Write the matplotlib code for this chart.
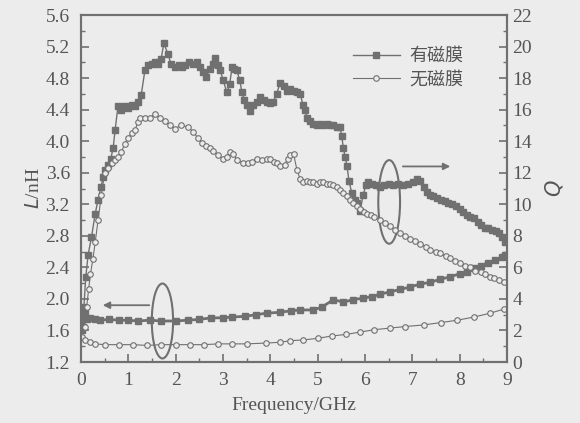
import matplotlib
matplotlib.use("Agg")
import matplotlib.pyplot as plt
from matplotlib.patches import Ellipse

# Q curves (upper)
f_q_film = [0.03, 0.06, 0.1, 0.15, 0.22, 0.3, 0.36, 0.42, 0.47, 0.51, 0.57, 0.63, 0.68, 0.72, 0.78,
            0.85, 0.93, 1.0, 1.07, 1.14, 1.2, 1.27, 1.35, 1.42, 1.49, 1.56, 1.63, 1.69, 1.75, 1.84,
            1.9, 1.99, 2.06, 2.13, 2.2, 2.28, 2.36, 2.44, 2.51, 2.58, 2.65, 2.72, 2.79, 2.83, 2.9,
            2.94, 3.0, 3.08, 3.14, 3.19, 3.24, 3.29, 3.35, 3.4, 3.45, 3.5, 3.57, 3.64, 3.71, 3.78,
            3.86, 3.93, 4.0, 4.06, 4.13, 4.21, 4.28, 4.35, 4.42, 4.49, 4.56, 4.63, 4.69, 4.73, 4.77,
            4.84, 4.91, 4.98, 5.05, 5.12, 5.19, 5.26, 5.33, 5.4, 5.47, 5.51, 5.54, 5.58, 5.62, 5.66,
            5.72, 5.78, 5.83, 5.9, 5.96, 6.02, 6.07, 6.15, 6.23, 6.32, 6.4, 6.5, 6.6, 6.7, 6.8,
            6.9, 7.02, 7.1, 7.17, 7.24, 7.3, 7.37, 7.44, 7.52, 7.6, 7.68, 7.76, 7.84, 7.92, 8.0,
            8.08, 8.15, 8.22, 8.3, 8.38, 8.46, 8.53, 8.6, 8.68, 8.76, 8.84, 8.9, 8.95]
q_film = [2.0, 3.5, 5.4, 6.8, 7.9, 9.4, 10.3, 11.1, 11.7, 12.2, 12.5, 12.9, 13.6, 14.7, 16.2,
          16.0, 16.2, 16.1, 16.3, 16.2, 16.5, 16.9, 18.5, 18.8, 18.9, 19.0, 18.9, 19.2, 20.2, 19.5,
          18.9, 18.7, 18.8, 18.7, 18.8, 19.0, 18.9, 19.0, 18.7, 18.4, 18.1, 18.6, 18.9, 19.3, 18.8,
          18.5, 17.9, 17.1, 17.6, 18.7, 18.6, 18.5, 17.9, 17.1, 16.6, 16.3, 15.9, 16.3, 16.5, 16.8,
          16.6, 16.5, 16.4, 16.5, 17.0, 17.7, 17.5, 17.2, 17.3, 17.2, 17.1, 17.0, 16.3, 16.0, 15.5,
          15.3, 15.1, 15.0, 15.1, 15.0, 15.1, 15.0, 15.0, 14.9, 14.9, 14.3, 13.6, 13.0, 12.4, 11.5,
          10.7, 10.3, 10.1, 9.6, 10.6, 11.2, 11.4, 11.3, 11.2, 11.1, 11.2, 11.3, 11.2, 11.3, 11.2,
          11.3, 11.4, 11.6, 11.5, 11.1, 10.8, 10.6, 10.5, 10.4, 10.3, 10.2, 10.1, 10.0, 9.9, 9.7,
          9.5, 9.3, 9.2, 9.1, 8.9, 8.7, 8.5, 8.5, 8.4, 8.3, 8.2, 7.9, 7.6]

f_q_bare = [0.08, 0.12, 0.16, 0.2, 0.25, 0.3, 0.36, 0.43, 0.5, 0.57, 0.65, 0.72, 0.78, 0.85, 0.92,
            0.99, 1.07, 1.14, 1.2, 1.25, 1.35, 1.45, 1.56, 1.67, 1.78, 1.88, 1.99, 2.11, 2.26, 2.37,
            2.47, 2.56, 2.63, 2.72, 2.79, 2.9, 3.0, 3.08, 3.15, 3.22, 3.3, 3.43, 3.52, 3.62, 3.72,
            3.82, 3.92, 4.0, 4.08, 4.15, 4.21, 4.3, 4.37, 4.42, 4.49, 4.56, 4.63, 4.69, 4.77, 4.84,
            4.91, 4.98, 5.05, 5.12, 5.19, 5.26, 5.33, 5.4, 5.47, 5.54, 5.62, 5.68, 5.75, 5.83, 5.9,
            5.97, 6.04, 6.12, 6.2, 6.32, 6.43, 6.53, 6.64, 6.74, 6.85, 6.95, 7.06, 7.17, 7.28, 7.38,
            7.49, 7.59, 7.7, 7.8, 7.9, 8.0, 8.11, 8.22, 8.33, 8.44, 8.54, 8.64, 8.72, 8.82, 8.93]
q_bare = [2.2, 3.5, 4.6, 5.6, 6.5, 7.6, 9.0, 10.6, 12.0, 12.3, 12.6, 12.8, 13.0, 13.3, 13.8,
          14.2, 14.5, 14.7, 15.2, 15.5, 15.5, 15.5, 15.7, 15.5, 15.3, 15.0, 14.8, 15.0, 14.9, 14.6,
          14.2, 13.9, 13.7, 13.6, 13.4, 13.1, 12.9, 13.0, 13.3, 13.2, 12.8, 12.6, 12.6, 12.7, 12.9,
          12.8, 12.9, 12.9, 12.7, 12.6, 12.4, 12.5, 12.9, 13.1, 13.2, 12.2, 11.6, 11.4, 11.5, 11.4,
          11.4, 11.3, 11.4, 11.4, 11.3, 11.3, 11.2, 11.1, 10.9, 10.7, 10.5, 10.3, 10.1, 9.9, 9.7,
          9.5, 9.4, 9.3, 9.2, 9.0, 8.8, 8.6, 8.4, 8.2, 8.0, 7.8, 7.7, 7.5, 7.3, 7.1,
          7.0, 6.9, 6.7, 6.6, 6.4, 6.3, 6.1, 6.0, 5.8, 5.7, 5.6, 5.4, 5.3, 5.2, 5.1]

# L curves (lower)
f_l_film = [0.02, 0.05, 0.08, 0.12, 0.2, 0.3, 0.4, 0.6, 0.8, 1.0, 1.2, 1.45, 1.7, 2.0, 2.25,
            2.5, 2.75, 3.0, 3.2, 3.47, 3.7, 3.93, 4.2, 4.44, 4.63, 4.91, 5.1, 5.33, 5.54, 5.75,
            5.96, 6.15, 6.32, 6.53, 6.74, 6.95, 7.17, 7.38, 7.59, 7.8, 8.0, 8.15, 8.3, 8.45, 8.6,
            8.75, 8.9, 8.96]
l_film = [1.86, 1.65, 1.82, 1.74, 1.76, 1.74, 1.73, 1.74, 1.73, 1.73, 1.72, 1.73, 1.72, 1.72, 1.73,
          1.74, 1.76, 1.76, 1.77, 1.78, 1.80, 1.82, 1.83, 1.85, 1.86, 1.86, 1.90, 1.99, 1.96, 1.99,
          2.01, 2.03, 2.06, 2.09, 2.12, 2.15, 2.19, 2.21, 2.25, 2.28, 2.32, 2.34, 2.39, 2.42, 2.46,
          2.49, 2.53, 2.56]

f_l_bare = [0.02, 0.08, 0.18, 0.3, 0.5, 0.8, 1.1, 1.4, 1.7, 2.0, 2.3, 2.6, 2.9, 3.2, 3.5,
            3.9, 4.2, 4.42, 4.7, 5.0, 5.3, 5.6, 5.9, 6.2, 6.53, 6.85, 7.24, 7.6, 7.95, 8.3,
            8.65, 8.93]
l_bare = [1.52, 1.48, 1.45, 1.43, 1.42, 1.42, 1.42, 1.41, 1.42, 1.42, 1.42, 1.42, 1.43, 1.43, 1.43,
          1.44, 1.45, 1.47, 1.48, 1.50, 1.53, 1.55, 1.58, 1.61, 1.63, 1.65, 1.67, 1.70, 1.73, 1.77,
          1.82, 1.87]

gray = "#707070"
bg = "#ececec"
txt = "#555555"

plt.rcParams["font.family"] = ["Liberation Serif", "Noto Sans CJK SC"]

fig = plt.figure(figsize=(5.8, 4.23), dpi=100, facecolor=bg)
ax = fig.add_axes([0.1397, 0.1442, 0.7345, 0.8203])
ax.set_facecolor(bg)
ax2 = ax.twinx()

ax.plot(f_l_film, l_film, "-s", color=gray, ms=4.2, lw=2.0, mec=gray, mfc=gray)
ax.plot(f_l_bare, l_bare, "-o", color=gray, ms=4.0, lw=0.8, mec=gray, mfc=bg, mew=0.8)

ax2.plot(f_q_film, q_film, "-s", color=gray, ms=4.2, lw=1.0, mec=gray, mfc=gray, label="有磁膜")
ax2.plot(f_q_bare, q_bare, "-o", color=gray, ms=4.0, lw=0.8, mec=gray, mfc=bg, mew=0.8, label="无磁膜")

ax.set_xlim(0, 9)
ax.set_ylim(1.2, 5.6)
ax2.set_ylim(0, 22)
ax.set_xticks(range(10))
ax.set_xticks([x + 0.5 for x in range(9)], minor=True)
ax.set_yticks([1.2 + 0.4 * i for i in range(12)])
ax.set_yticklabels(["%.1f" % (1.2 + 0.4 * i) for i in range(12)])
ax.set_yticks([1.4 + 0.4 * i for i in range(11)], minor=True)
ax2.set_yticks(range(0, 23, 2))
ax2.set_yticks(range(1, 22, 2), minor=True)

for a in (ax, ax2):
    for s in a.spines.values():
        s.set_color(gray)
        s.set_linewidth(1.5)
    a.tick_params(which="both", direction="in", color=gray, labelcolor=txt, labelsize=14, top=False)
    a.tick_params(which="major", length=6, width=1.2)
    a.tick_params(which="minor", length=3, width=1.0)
ax.tick_params(axis="y", which="major", pad=8)
ax.tick_params(axis="x", which="major", pad=7)
ax2.tick_params(axis="y", which="major", pad=4)

ax.set_xlabel("Frequency/GHz", color=txt, fontsize=14, labelpad=6)
ax.set_ylabel("$L$/nH", color=txt, fontsize=14, labelpad=2)
ax2.set_ylabel("$Q$", color=txt, fontsize=15, labelpad=8)

# annotation ellipses and arrows
ax.add_patch(Ellipse((1.72, 1.72), 0.45, 0.95, fill=False, ec=gray, lw=1.5))
ax.annotate("", xy=(0.4, 1.92), xytext=(1.5, 1.92),
            arrowprops=dict(arrowstyle="-|>", color=gray, lw=1.3, mutation_scale=10))
ax2.add_patch(Ellipse((6.51, 10.15), 0.46, 5.3, fill=False, ec=gray, lw=1.5))
ax2.annotate("", xy=(7.86, 12.4), xytext=(6.74, 12.4),
             arrowprops=dict(arrowstyle="-|>", color=gray, lw=1.3, mutation_scale=10))

leg = ax2.legend(loc="upper left", bbox_to_anchor=(0.6, 0.955), frameon=False, numpoints=1,
                 handlelength=2.6, handletextpad=0.5, labelspacing=0.3,
                 prop={"family": ["Noto Sans CJK SC"], "size": 13})
for t in leg.get_texts():
    t.set_color(txt)

fig.savefig("out.png", dpi=100, facecolor=bg)
